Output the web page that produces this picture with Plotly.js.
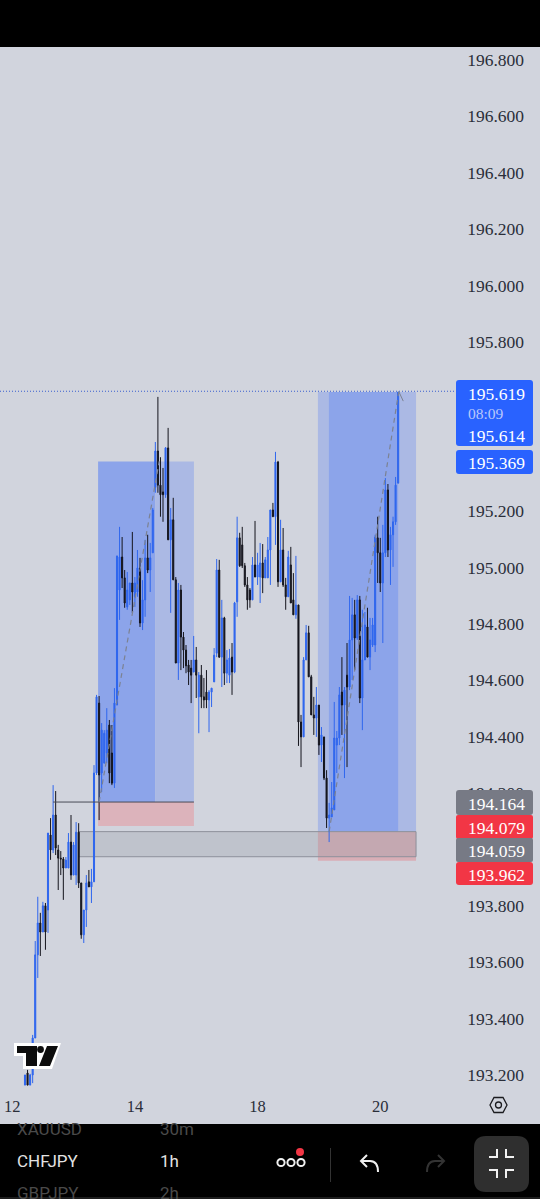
<!DOCTYPE html>
<html><head><meta charset="utf-8">
<script src="https://cdn.plot.ly/plotly-3.0.1.min.js"></script>
<style>html,body{margin:0;padding:0;background:#d1d4dd;overflow:hidden}#c{width:540px;height:1199px}</style>
</head><body><div id="c"></div>
<script>
const opens=[193.164,193.207,193.164,193.200,193.331,193.626,193.739,193.707,193.800,193.785,
194.051,193.998,194.122,193.998,193.969,193.966,193.934,193.934,194.026,193.909,
193.909,194.061,193.881,193.697,193.785,193.885,193.867,193.885,194.271,194.519,
194.271,194.306,194.342,194.441,194.342,194.235,194.512,194.920,195.037,194.963,
194.860,194.885,194.945,194.896,194.913,194.998,194.803,194.885,195.034,194.991,
195.052,195.284,195.413,195.292,195.268,195.258,195.424,195.098,195.169,194.956,
194.661,194.920,194.753,194.707,194.654,194.643,194.629,194.672,194.541,194.618,
194.541,194.558,194.530,194.558,194.594,194.696,194.991,194.682,194.821,194.625,
194.618,194.682,194.629,194.878,195.105,195.080,195.006,194.938,194.920,194.885,
195.009,194.966,194.966,195.016,194.963,194.963,195.062,195.204,195.180,195.374,
194.949,195.062,194.938,194.896,195.009,194.885,194.832,194.867,194.452,194.399,
194.672,194.768,194.612,194.477,194.466,194.512,194.370,194.399,194.253,194.111,
194.115,194.140,194.370,194.395,194.558,194.512,194.618,194.576,194.743,194.832,
194.750,194.885,194.537,194.672,194.789,194.682,194.725,194.725,195.105,195.052,
194.945,195.052,195.275,195.062,195.116,195.162,195.299];
const highs=[193.200,193.218,193.204,193.342,193.675,193.832,193.775,193.814,193.810,194.058,
194.111,194.228,194.207,194.016,193.994,193.973,193.973,194.058,194.122,194.026,
194.097,194.093,193.881,193.785,193.909,193.927,193.931,194.299,194.548,194.544,
194.448,194.423,194.501,194.459,194.441,194.572,195.041,195.144,195.108,194.991,
194.984,194.945,195.126,194.966,195.062,195.034,194.955,195.098,195.116,195.087,
195.211,195.445,195.605,195.391,195.353,195.427,195.495,195.211,195.247,194.966,
194.945,194.938,194.771,194.725,194.672,194.672,194.757,194.718,194.629,194.654,
194.608,194.636,194.565,194.572,194.714,195.030,195.027,194.885,194.825,194.707,
194.711,194.732,194.878,195.180,195.123,195.144,195.016,194.966,194.927,195.037,
195.165,195.052,195.087,195.083,195.037,195.108,195.204,195.229,195.410,195.378,
195.169,195.140,194.963,195.059,195.073,194.980,195.041,194.867,194.477,194.682,
194.796,194.793,194.619,194.541,194.576,194.512,194.434,194.399,194.281,194.165,
194.239,194.523,194.420,194.576,194.682,194.576,194.732,194.899,194.892,194.885,
194.902,194.899,194.850,194.842,194.857,194.821,194.821,195.116,195.180,195.105,
195.151,195.317,195.296,195.144,195.180,195.321,195.622];
const lows=[193.164,193.164,193.164,193.171,193.331,193.544,193.622,193.707,193.644,193.704,
193.963,193.987,193.980,193.856,193.909,193.821,193.934,193.934,193.892,193.909,
193.874,193.863,193.683,193.668,193.725,193.867,193.810,193.885,194.264,194.104,
194.204,194.306,194.306,194.235,194.228,194.218,194.512,194.814,194.927,194.857,
194.850,194.867,194.839,194.860,194.896,194.789,194.778,194.825,194.980,194.913,
195.052,195.265,195.265,195.180,195.162,195.247,195.098,194.839,194.956,194.661,
194.601,194.636,194.643,194.625,194.583,194.519,194.629,194.537,194.412,194.501,
194.501,194.501,194.416,194.505,194.594,194.682,194.679,194.576,194.583,194.590,
194.590,194.548,194.625,194.825,195.002,194.998,194.931,194.850,194.857,194.885,
194.966,194.938,194.874,194.909,194.963,194.963,194.938,195.180,195.080,194.931,
194.949,194.931,194.850,194.896,194.874,194.832,194.818,194.367,194.292,194.399,
194.672,194.612,194.477,194.406,194.399,194.335,194.310,194.246,194.076,194.026,
194.115,194.140,194.271,194.370,194.406,194.253,194.292,194.565,194.601,194.636,
194.743,194.519,194.423,194.672,194.682,194.636,194.718,194.700,194.945,194.913,
194.732,195.037,195.037,194.938,195.002,195.151,195.299];
const closes=[193.200,193.164,193.200,193.331,193.626,193.739,193.707,193.800,193.707,194.058,
193.998,194.122,194.005,193.969,193.966,193.934,193.962,194.026,193.909,194.016,
194.061,193.881,193.697,193.785,193.881,193.867,193.885,194.271,194.541,194.264,
194.423,194.412,194.423,194.271,194.235,194.519,195.041,195.037,194.963,194.874,
194.920,194.945,194.913,194.945,194.998,194.803,194.885,195.034,194.991,195.034,
195.204,195.413,195.292,195.258,195.258,195.424,195.098,195.169,194.956,194.661,
194.920,194.753,194.707,194.651,194.629,194.618,194.672,194.618,194.618,194.541,
194.530,194.530,194.558,194.572,194.689,194.991,194.682,194.821,194.625,194.672,
194.679,194.629,194.874,195.105,195.006,195.006,194.938,194.885,194.885,195.009,
194.966,195.009,195.016,194.963,195.027,195.062,195.204,195.180,195.374,194.949,
195.062,194.938,194.896,195.037,194.874,194.832,194.867,194.452,194.399,194.672,
194.768,194.612,194.477,194.466,194.512,194.370,194.406,194.253,194.111,194.122,
194.147,194.395,194.395,194.548,194.512,194.565,194.576,194.743,194.832,194.750,
194.885,194.537,194.672,194.796,194.682,194.743,194.796,195.108,195.052,194.945,
195.052,195.275,195.062,195.116,195.162,195.292,195.622];
const candleIndex=opens.map((_,i)=>i);

const priceTicks=[193.2,193.4,193.6,193.8,194.2,194.4,194.6,194.8,195.0,195.2,195.4,195.8,196.0,196.2,196.4,196.6,196.8];
const dateTickIndex=[-5,43,91,139];
const dateTickText=['12','14','18','20'];

// position tools as they sit on the picture: [entry, target, stop]
const leftLevels=[194.168,195.376,194.083];
const rightLevels=[194.063,195.622,193.960];
const lastPrice=195.625;
const zoneLevels=[194.063,193.974];

const W=540,H=1199,T=47,B=1093;
const px=x=>x/W, py=y=>(B-y)/(B-T);
const rrect=(x0,y0,x1,y1,r)=>`M ${px(x0+r)} ${py(y0)} L ${px(x1-r)} ${py(y0)} Q ${px(x1)} ${py(y0)} ${px(x1)} ${py(y0+r)} L ${px(x1)} ${py(y1-r)} Q ${px(x1)} ${py(y1)} ${px(x1-r)} ${py(y1)} L ${px(x0+r)} ${py(y1)} Q ${px(x0)} ${py(y1)} ${px(x0)} ${py(y1-r)} L ${px(x0)} ${py(y0+r)} Q ${px(x0)} ${py(y0)} ${px(x0+r)} ${py(y0)} Z`;
const poly=pts=>'M '+pts.map(p=>px(p[0])+' '+py(p[1])).join(' L ')+' Z';
const open=pts=>'M '+pts.map(p=>px(p[0])+' '+py(p[1])).join(' L ');
const pShape=(path,fill,lc,lw,layer)=>({type:'path',xref:'paper',yref:'paper',path,fillcolor:fill||'rgba(0,0,0,0)',line:{color:lc||'rgba(0,0,0,0)',width:lw||0},layer:layer||'above'});
const rect=(x0,x1,y0,y1,fill,lc,lw)=>({type:'rect',xref:'x',yref:'y',x0,x1,y0,y1,fillcolor:fill,line:{color:lc||'rgba(0,0,0,0)',width:lw||0},layer:'below'});
const seg=(x0,x1,y0,y1,color,width,dash,layer)=>({type:'line',xref:'x',yref:'y',x0,x1,y0,y1,line:{color,width,dash:dash||'solid'},layer:layer||'above'});
const circle=(cx,cy,r,fill,lc,lw)=>({type:'circle',xref:'paper',yref:'paper',x0:px(cx-r),x1:px(cx+r),y0:py(cy+r),y1:py(cy-r),fillcolor:fill||'rgba(0,0,0,0)',line:{color:lc||'rgba(0,0,0,0)',width:lw||0},layer:'above'});

const dark='#8ca4ea',light='#abb9e4',red='#dcb3bb';
const shapes=[
 rect(28.6,50.9,leftLevels[0],leftLevels[1],dark),
 rect(50.9,66.1,leftLevels[0],leftLevels[1],light),
 rect(28.6,66.1,leftLevels[2],leftLevels[0],red),
 rect(114.6,153,rightLevels[0],rightLevels[1],light),
 rect(118.9,146,rightLevels[0],rightLevels[1],dark),
 rect(114.6,153,rightLevels[2],rightLevels[0],'#d8aeb6'),
 rect(21,153,zoneLevels[1],zoneLevels[0],'rgba(150,155,165,0.3)','#8d909b',1),
 seg(11,66.1,leftLevels[0],leftLevels[0],'#4a4c57',1),
 seg(-9.78,168.6,lastPrice,lastPrice,'#3a5fcf',1,'1px,2px','below'),
 seg(29,52.5,194.168,195.376,'#7c8292',1.2,'5px,4px'),
 seg(119,146.2,194.063,195.622,'#7c8292',1.2,'5px,4px'),
 seg(146.2,148,lastPrice,195.59,'#7c8292',1),
 // price tags
 pShape(rrect(456,380,533,446,3),'#2962ff'),
 pShape(rrect(456,450,533,474,3),'#2962ff'),
 pShape(rrect(456,790,533,815,3),'#777a85'),
 pShape(rrect(456,815,533,839,2),'#f23645'),
 pShape(rrect(456,838,533,862,2),'#777a85'),
 pShape(rrect(456,862,533,885,3),'#f23645'),
 // screen bars
 pShape(poly([[0,0],[540,0],[540,47],[0,47]]),'#000000'),
 pShape(poly([[0,1124],[540,1124],[540,1199],[0,1199]]),'#000000'),
 pShape(poly([[0,1197],[540,1197],[540,1199],[0,1199]]),'#1d1d1d'),
 // logo
 pShape(poly([[14,1043],[61,1043],[52,1069],[23,1069],[23,1056],[14,1056]]),'#ffffff'),
 pShape(poly([[17,1046],[37,1046],[37,1066],[26,1066],[26,1053],[17,1053]]),'#0d0d0d'),
 circle(40.5,1049.5,3.4,'#0d0d0d'),
 pShape(poly([[47,1046],[58,1046],[50,1066],[39,1066]]),'#0d0d0d'),
 // settings
 pShape(poly([[490,1105],[494,1097.5],[503,1097.5],[507,1105],[503,1112.5],[494,1112.5]]),null,'#1b1b1f',1.3),
 circle(498.5,1105,3,null,'#1b1b1f',1.3),
 // toolbar icons
 circle(281,1162.5,3.6,null,'#f0f0f0',2),
 circle(291,1162.5,3.6,null,'#f0f0f0',2),
 circle(301,1162.5,3.6,null,'#f0f0f0',2),
 circle(300,1152,4,'#f23645'),
 pShape(open([[330.5,1148],[330.5,1182]]),null,'#333333',1),
 pShape(open([[367,1155],[361,1161],[367,1167]]),null,'#f0f0f0',2),
 pShape(`M ${px(361)} ${py(1161)} L ${px(370)} ${py(1161)} Q ${px(378)} ${py(1161)} ${px(378)} ${py(1172)}`,null,'#f0f0f0',2),
 pShape(open([[438,1155],[444,1161],[438,1167]]),null,'#333333',2),
 pShape(`M ${px(444)} ${py(1161)} L ${px(435)} ${py(1161)} Q ${px(427)} ${py(1161)} ${px(427)} ${py(1172)}`,null,'#333333',2),
 pShape(rrect(474,1136,529,1192,12),'#2f2f2f'),
 pShape(open([[489,1157],[497,1157],[497,1149]]),null,'#f2f2f2',2),
 pShape(open([[506,1149],[506,1157],[514,1157]]),null,'#f2f2f2',2),
 pShape(open([[489,1170],[497,1170],[497,1178]]),null,'#f2f2f2',2),
 pShape(open([[506,1178],[506,1170],[514,1170]]),null,'#f2f2f2',2)
];

const serif='"Liberation Serif", serif', sans='Roboto, sans-serif';
const note=(text,x,y,size,color,family,anchor)=>({xref:'paper',yref:'paper',x:px(x),y:py(y),text,showarrow:false,xanchor:anchor||'left',yanchor:'middle',font:{size,color,family},borderpad:0,borderwidth:0});
const annotations=[
 note('195.619',468,394,17.5,'#ffffff',serif),
 note('08:09',468,413,15.5,'#b9c8fb',serif),
 note('195.614',468,436,17.5,'#ffffff',serif),
 note('195.369',468,463,17.5,'#ffffff',serif),
 note('194.164',468,804,17.5,'#ffffff',serif),
 note('194.079',468,828,17.5,'#ffffff',serif),
 note('194.059',468,851,17.5,'#ffffff',serif),
 note('193.962',468,875,17.5,'#ffffff',serif),
 note('XAUUSD',17,1129,17,'#4a4a4a',sans),
 note('30m',160,1129,17,'#4a4a4a',sans),
 note('CHFJPY',17,1161,17,'#e3e3e3',sans),
 note('1h',160,1161,17,'#e3e3e3',sans),
 note('GBPJPY',17,1193,17,'#4a4a4a',sans),
 note('2h',160,1193,17,'#4a4a4a',sans)
];

const trace={type:'candlestick',x:candleIndex,open:opens,high:highs,low:lows,close:closes,
 increasing:{line:{color:'#2f66ee',width:1},fillcolor:'#2f66ee'},
 decreasing:{line:{color:'#14141c',width:1},fillcolor:'#14141c'},
 whiskerwidth:0,hoverinfo:'skip'};

Plotly.newPlot('c',[trace],{
 width:W,height:H,margin:{l:0,r:0,t:T,b:H-B,pad:0},
 paper_bgcolor:'#d1d4dd',plot_bgcolor:'#d1d4dd',showlegend:false,hovermode:false,boxgap:0.4,
 xaxis:{range:[-9.78,201.5],showgrid:false,zeroline:false,showline:false,rangeslider:{visible:false},
  tickmode:'array',tickvals:dateTickIndex,ticktext:dateTickText,ticks:'',ticklen:0,tickangle:0,
  tickfont:{family:serif,size:16.5,color:'#2a2e39'},automargin:false,ticklabelstandoff:1},
 yaxis:{range:[193.136,196.846],side:'right',showgrid:false,zeroline:false,showline:false,
  tickmode:'array',tickvals:priceTicks,ticktext:priceTicks.map(v=>v.toFixed(3)),ticks:'',
  ticklabelposition:'inside',ticklabelstandoff:13,tickfont:{family:serif,size:17.5,color:'#2a2e39'},automargin:false},
 shapes,annotations
},{displayModeBar:false,staticPlot:true});
</script></body></html>
